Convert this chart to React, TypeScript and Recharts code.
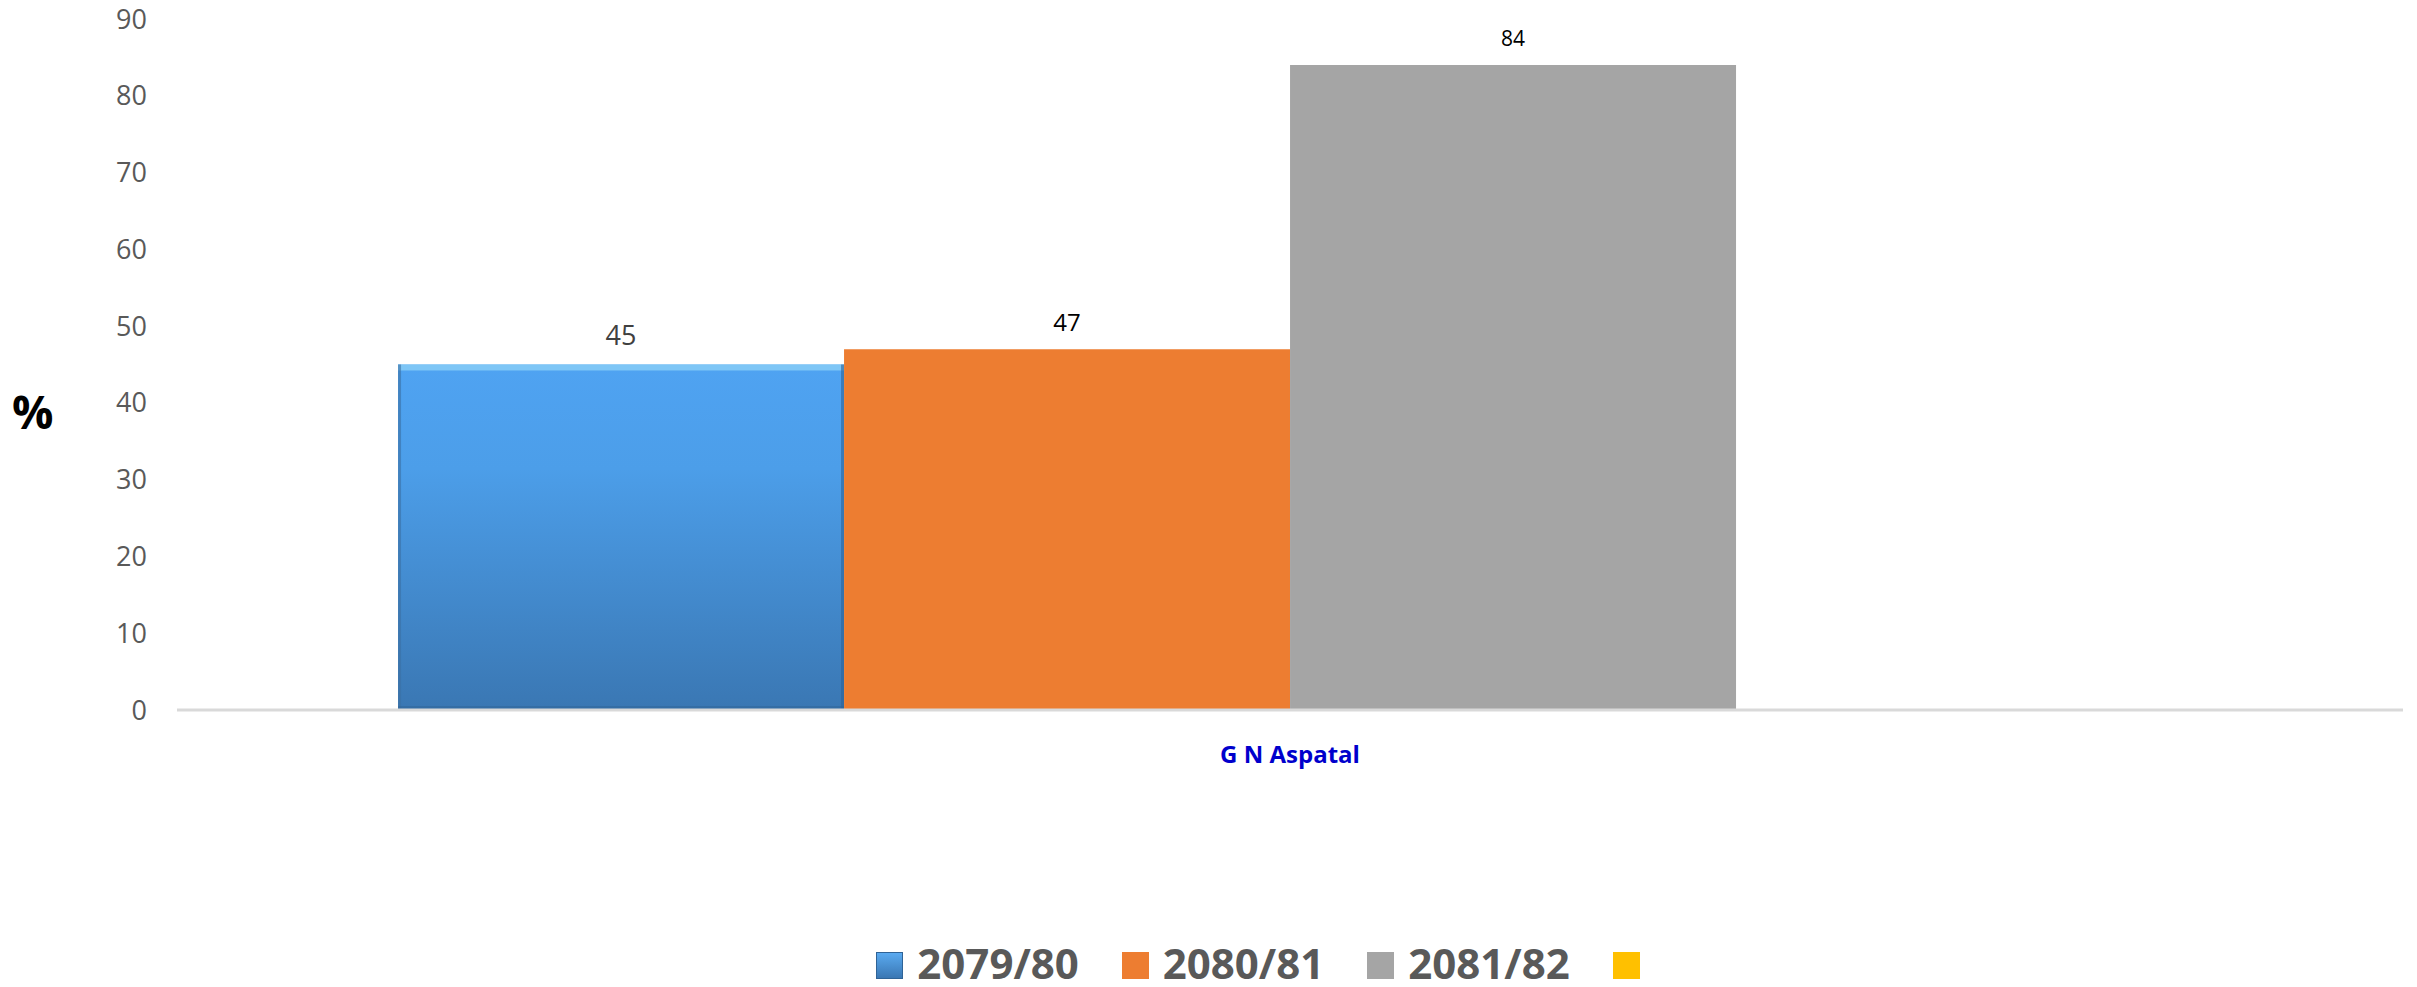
import React from 'react';
import { BarChart, Bar, XAxis, YAxis, Legend, LabelList } from 'recharts';

const categories = ['G N Aspatal'];
const values2079 = [45];
const values2080 = [47];
const values2081 = [84];
const values4th: (number | null)[] = [null];
const yTicks = [0, 10, 20, 30, 40, 50, 60, 70, 80, 90];
const seriesNames = ['2079/80', '2080/81', '2081/82', ''];
const seriesColors = ['#4a98e0', '#ed7d31', '#a5a5a5', '#ffc000'];

const data = categories.map((c, i) => ({
  name: c,
  s1: values2079[i],
  s2: values2080[i],
  s3: values2081[i],
  s4: values4th[i],
}));

const FONT = '"Open Sans", "Liberation Sans", sans-serif';

const BlueShape = (props: any) => {
  const { x, y, width, height } = props;
  if (!height || height <= 0) return null;
  return (
    <g>
      <defs>
        <linearGradient id="blueBarGrad" x1="0" y1="0" x2="0" y2="1">
          <stop offset="0" stopColor="#4fa3f2" />
          <stop offset="0.3" stopColor="#4c9ee9" />
          <stop offset="1" stopColor="#3a77b3" />
        </linearGradient>
      </defs>
      <rect x={x} y={y} width={width} height={height} fill="url(#blueBarGrad)" />
      <rect x={x} y={y} width={width} height={6} fill="#86cdf7" opacity={0.85} />
      <rect x={x} y={y} width={3} height={height} fill="#3a6fa3" opacity={0.6} />
      <rect x={x + width - 3} y={y} width={3} height={height} fill="#2f6396" opacity={0.6} />
      <rect x={x} y={y + height - 4} width={width} height={4} fill="#2f6396" opacity={0.5} />
    </g>
  );
};

const makeLabel = (fontSize: number, color: string, gap: number) => (props: any) => {
  const { x, y, width, value } = props;
  if (value === null || value === undefined) return null;
  return (
    <text
      x={x + width / 2}
      y={y - gap}
      textAnchor="middle"
      fontFamily={FONT}
      fontSize={fontSize}
      fill={color}
    >
      {value}
    </text>
  );
};

const CategoryTick = (props: any) => {
  const { x, y, payload } = props;
  return (
    <text
      x={x}
      y={y + 45}
      textAnchor="middle"
      fontFamily={FONT}
      fontWeight="bold"
      fontSize={24}
      fill="#0000cc"
    >
      {payload.value}
    </text>
  );
};

const LegendContent = () => (
  <div
    style={{
      width: 2417,
      height: 70,
      boxSizing: 'border-box',
      paddingTop: 24,
      paddingLeft: 99,
      display: 'flex',
      justifyContent: 'center',
      alignItems: 'flex-start',
      fontFamily: FONT,
    }}
  >
    {seriesNames.map((n, i) => (
      <div key={i} style={{ display: 'flex', alignItems: 'center', height: 44, marginRight: i < 3 ? 43 : 0 }}>
        <div
          style={{
            width: 27,
            height: 27,
            marginTop: 4,
            background:
              i === 0
                ? 'linear-gradient(to bottom, #5aaaf0, #3a77b3)'
                : seriesColors[i],
            border: i === 0 ? '1px solid #2f6396' : 'none',
            boxSizing: 'border-box',
          }}
        />
        {n !== '' && (
          <span
            style={{
              marginLeft: 14,
              fontSize: 42,
              fontWeight: 'bold',
              color: '#595959',
              lineHeight: '44px',
            }}
          >
            {n}
          </span>
        )}
      </div>
    ))}
  </div>
);

export default function App() {
  return (
    <div style={{ width: 2417, height: 987, marginTop: -8, marginLeft: -8 }}>
      <BarChart
        width={2417}
        height={987}
        data={data}
        margin={{ top: 19, right: 14, left: 0, bottom: 0 }}
        barCategoryGap="9.93%"
        barGap={0}
      >
        <XAxis
          dataKey="name"
          height={207}
          axisLine={{ stroke: '#d9d9d9', strokeWidth: 3 }}
          tickLine={false}
          tick={<CategoryTick />}
          interval={0}
        />
        <YAxis
          width={177}
          domain={[0, 90]}
          ticks={yTicks}
          axisLine={false}
          tickLine={false}
          tickSize={0}
          tickMargin={30}
          tick={{ fill: '#595959', fontSize: 27, fontFamily: FONT }}
          label={{
            value: '%',
            position: 'insideLeft',
            offset: 12,
            dy: 48,
            style: { fontSize: 46, fontWeight: 'bold', fill: '#000000', fontFamily: FONT },
          }}
        />
        <Legend verticalAlign="bottom" content={<LegendContent />} height={70} />
        <Bar dataKey="s1" name={seriesNames[0]} fill={seriesColors[0]} shape={<BlueShape />} isAnimationActive={false}>
          <LabelList dataKey="s1" content={makeLabel(27, '#404040', 20)} />
        </Bar>
        <Bar dataKey="s2" name={seriesNames[1]} fill={seriesColors[1]} isAnimationActive={false}>
          <LabelList dataKey="s2" content={makeLabel(24, '#000000', 18)} />
        </Bar>
        <Bar dataKey="s3" name={seriesNames[2]} fill={seriesColors[2]} isAnimationActive={false}>
          <LabelList dataKey="s3" content={makeLabel(21, '#000000', 19)} />
        </Bar>
        <Bar dataKey="s4" name={seriesNames[3]} fill={seriesColors[3]} isAnimationActive={false} />
      </BarChart>
    </div>
  );
}
